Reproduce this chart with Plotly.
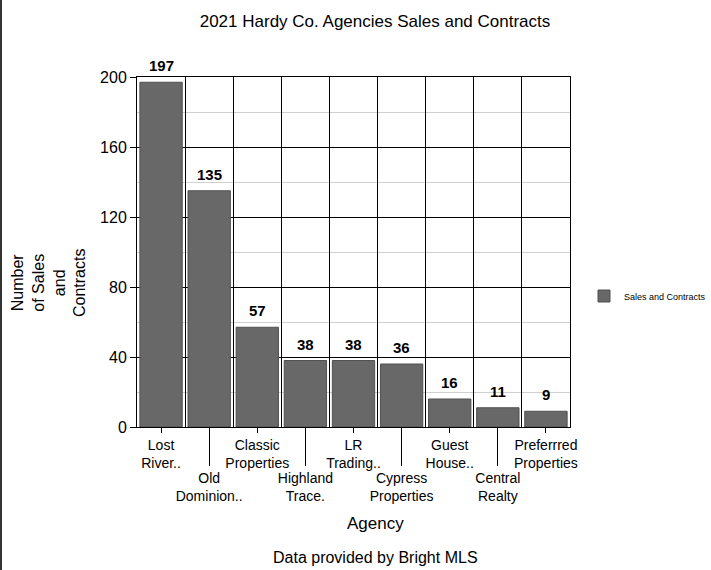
import plotly.graph_objects as go

agencies = ["Lost River..", "Old Dominion..", "Classic Properties", "Highland Trace.",
            "LR Trading..", "Cypress Properties", "Guest House..", "Central Realty",
            "Preferrred Properties"]
tick_labels = ["Lost<br>River..", "Old<br>Dominion..", "Classic<br>Properties",
               "Highland<br>Trace.", "LR<br>Trading..", "Cypress<br>Properties",
               "Guest<br>House..", "Central<br>Realty", "Preferrred<br>Properties"]
values = [197, 135, 57, 38, 38, 36, 16, 11, 9]
y_ticks = [0, 40, 80, 120, 160, 200]

W, H = 711, 570
ML, MR, MT, MB = 137, 141, 77, 143
PW, PH = W - ML - MR, H - MT - MB
FONT = "Liberation Sans, Arial, Helvetica, sans-serif"

idx = list(range(len(agencies)))
even = [i for i in idx if i % 2 == 0]
odd = [i for i in idx if i % 2 == 1]
bounds = [i + 0.5 for i in idx[:-1]]

fig = go.Figure()
fig.add_trace(go.Bar(
    x=idx, y=values, name="Sales and Contracts",
    marker=dict(color="#686868", line=dict(color="#505050", width=1)),
    width=0.88,
))
# invisible traces to anchor overlay axes
fig.add_trace(go.Scatter(x=[0], y=[0], xaxis="x2", mode="markers",
                         marker=dict(opacity=0), showlegend=False, hoverinfo="skip"))
fig.add_trace(go.Scatter(x=[0], y=[0], xaxis="x3", mode="markers",
                         marker=dict(opacity=0), showlegend=False, hoverinfo="skip"))

rng = [-0.5, len(agencies) - 0.5]
tickfont = dict(family=FONT, size=14, color="black")
fig.update_layout(
    width=W, height=H,
    margin=dict(l=ML, r=MR, t=MT, b=MB, pad=0, autoexpand=False),
    paper_bgcolor="white", plot_bgcolor="white",
    font=dict(family=FONT, color="black"),
    title=dict(text="2021 Hardy Co. Agencies Sales and Contracts",
               font=dict(family=FONT, size=17, color="black"),
               x=375 / W, xanchor="center", y=1 - 21 / H, yanchor="middle"),
    xaxis=dict(range=rng, tickmode="array", tickvals=even,
               ticktext=[tick_labels[i] for i in even],
               ticks="outside", ticklen=5, tickcolor="black", tickwidth=1,
               showgrid=False, showline=True, linecolor="black", linewidth=1,
               mirror=True, zeroline=False, tickfont=tickfont),
    xaxis2=dict(range=rng, overlaying="x", side="bottom", anchor="y",
                tickmode="array", tickvals=odd,
                ticktext=[tick_labels[i] for i in odd],
                ticks="outside", ticklen=38, tickcolor="black", tickwidth=1,
                showgrid=False, showline=False, zeroline=False, tickfont=tickfont),
    xaxis3=dict(range=rng, overlaying="x", side="bottom", anchor="y",
                tickmode="array", tickvals=bounds, showticklabels=False,
                ticks="", showgrid=True, gridcolor="black", gridwidth=1,
                showline=False, zeroline=False),
    yaxis=dict(range=[0, 200], tickmode="array", tickvals=y_ticks,
               ticks="outside", ticklen=6, tickcolor="black",
               showgrid=True, gridcolor="black", gridwidth=1,
               minor=dict(tickvals=[20, 60, 100, 140, 180], showgrid=True,
                          gridcolor="#d0d0d0", gridwidth=1, ticks=""),
               showline=True, linecolor="black", linewidth=1, mirror=True,
               zeroline=False, tickfont=dict(family=FONT, size=16, color="black")),
    showlegend=True,
    legend=dict(x=(584 - ML) / PW, y=(MT + PH - 296) / PH, xanchor="left", yanchor="middle",
                font=dict(family=FONT, size=9, color="black"),
                bgcolor="rgba(0,0,0,0)", itemwidth=30),
)

annotations = [
    dict(x=i, y=v, text="<b>%d</b>" % v, xref="x", yref="y", showarrow=False,
         yanchor="bottom", yshift=6, font=dict(family=FONT, size=15, color="black"))
    for i, v in zip(idx, values)
]
annotations += [
    dict(text="Number<br>of Sales<br>and<br>Contracts", textangle=-90,
         x=(48 - ML) / PW, y=(MT + PH - 283) / PH, xref="paper", yref="paper",
         showarrow=False, font=dict(family=FONT, size=16, color="black"),
         xanchor="center", yanchor="middle"),
    dict(text="Agency", x=(375 - ML) / PW, y=(MT + PH - 523) / PH,
         xref="paper", yref="paper", showarrow=False,
         font=dict(family=FONT, size=17, color="black"),
         xanchor="center", yanchor="middle"),
    dict(text="Data provided by Bright MLS", x=(375 - ML) / PW, y=(MT + PH - 557) / PH,
         xref="paper", yref="paper", showarrow=False,
         font=dict(family=FONT, size=16, color="black"),
         xanchor="center", yanchor="middle"),
]
fig.update_layout(annotations=annotations)

# left page border
fig.add_shape(type="line", xref="paper", yref="paper",
              x0=(1 - ML) / PW, x1=(1 - ML) / PW,
              y0=-MB / PH, y1=1 + MT / PH,
              line=dict(color="#333333", width=2))

fig.write_html("out.html")
